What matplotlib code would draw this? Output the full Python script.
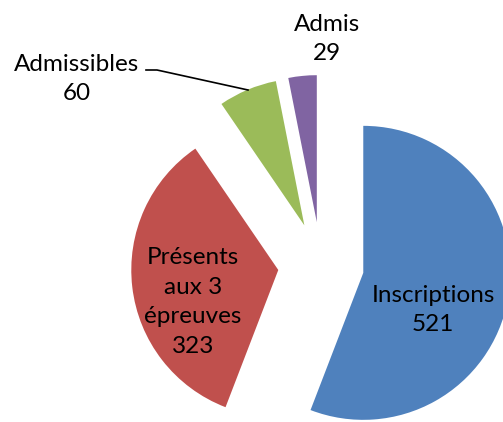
import matplotlib
matplotlib.use('Agg')
import matplotlib.pyplot as plt

# Data
labels = ['Inscriptions', 'Présents\naux 3\népreuves', 'Admissibles', 'Admis']
values = [521, 323, 60, 29]
colors = ['#4F81BD', '#C0504D', '#9BBB59', '#8064A2']

W, H = 503, 422
fig = plt.figure(figsize=(W / 100, H / 100), dpi=100)
ax = fig.add_axes([0, 0, 1, 1])

center = (321, H - 265)
radius = 147
# explode is in data units here (pixels)
wedges, _ = ax.pie(values, colors=colors, startangle=90, counterclock=False,
                   explode=[43] * len(values), center=center, radius=radius,
                   wedgeprops=dict(linewidth=0), frame=True)
ax.set_xlim(0, W)
ax.set_ylim(0, H)
ax.set_aspect('equal')
ax.axis('off')

font = dict(family='Lato', fontsize=17.5, ha='center', va='center', linespacing=1.5)

# data labels
ax.text(433, H - 310, f'{labels[0]}\n{values[0]}', **font)
ax.text(193, H - 302, f'{labels[1]}\n{values[1]}', **font)
ax.text(77, H - 79, f'{labels[2]}\n{values[2]}', **font)
ax.text(327, H - 39, f'{labels[3]}\n{values[3]}', **font)

# leader line for Admissibles
ax.plot([146, 157, 248], [H - 70, H - 70, H - 90], color='black', linewidth=1.2)

fig.savefig('out.png', dpi=100)
